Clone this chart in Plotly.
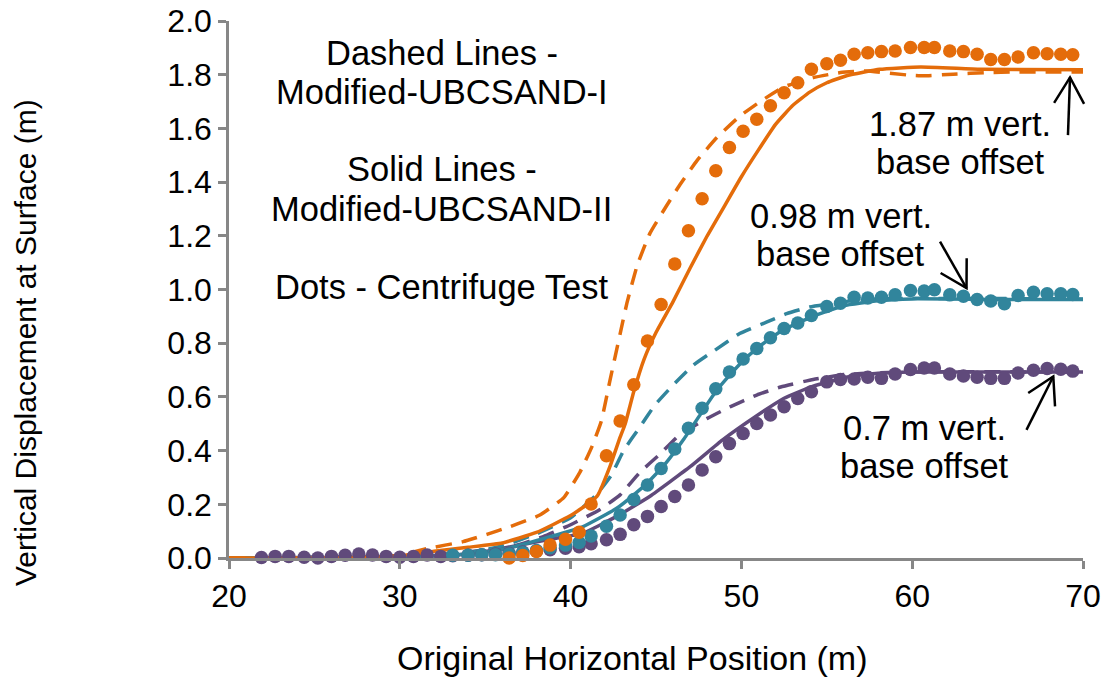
import math
import plotly.graph_objects as go

# ---------------------------------------------------------------------------
# Surface settlement profiles: centrifuge test vs. two constitutive models
# ---------------------------------------------------------------------------

# Centrifuge measurement stations (original horizontal position, m)
dot_x = [21.9, 22.7, 23.5, 24.4, 25.2, 26.0, 26.8, 27.6, 28.4, 29.2,
         30.0, 30.8, 31.6, 32.4, 33.1, 34.0, 34.8, 35.6, 36.4, 37.2,
         38.0, 38.8, 39.7, 40.5, 41.2, 42.1, 42.9, 43.7, 44.5, 45.3,
         46.1, 46.9, 47.7, 48.5, 49.3, 50.1, 50.9, 51.7, 52.5, 53.3,
         54.1, 55.0, 55.8, 56.6, 57.4, 58.2, 59.0, 59.9, 60.7, 61.3,
         62.2, 63.0, 63.8, 64.6, 65.4, 66.2, 67.1, 67.9, 68.7, 69.4]

# Centrifuge test - 0.7 m base offset (all stations)
dots_070 = [0.002, 0.006, 0.006, 0.003, 0.000, 0.006, 0.010, 0.015, 0.011, 0.006,
            0.003, 0.006, 0.011, 0.006, 0.008, 0.010, 0.012, 0.015, 0.018, 0.022,
            0.026, 0.031, 0.036, 0.042, 0.053, 0.068, 0.088, 0.124, 0.155, 0.192,
            0.229, 0.272, 0.328, 0.377, 0.426, 0.464, 0.501, 0.533, 0.563, 0.594,
            0.619, 0.656, 0.665, 0.667, 0.673, 0.669, 0.685, 0.702, 0.708, 0.708,
            0.685, 0.678, 0.673, 0.669, 0.669, 0.689, 0.699, 0.706, 0.703, 0.696]

# Centrifuge test - 0.98 m base offset (stations from 33.1 m)
dots_098 = [0.010, 0.010, 0.012, 0.012, 0.015, 0.020,
            0.028, 0.038, 0.048, 0.058, 0.082, 0.118, 0.160, 0.218, 0.272, 0.333,
            0.406, 0.483, 0.558, 0.630, 0.693, 0.741, 0.780, 0.820, 0.855, 0.875,
            0.903, 0.937, 0.949, 0.971, 0.968, 0.971, 0.980, 0.996, 0.994, 0.999,
            0.980, 0.975, 0.963, 0.957, 0.947, 0.978, 0.990, 0.984, 0.984, 0.981]

# Centrifuge test - 1.87 m base offset (stations from 36.4 m)
dots_187 = [0.000, 0.009,
            0.024, 0.048, 0.070, 0.096, 0.201, 0.381, 0.510, 0.645, 0.808, 0.944,
            1.095, 1.219, 1.338, 1.442, 1.529, 1.589, 1.634, 1.684, 1.733, 1.770,
            1.820, 1.841, 1.854, 1.876, 1.882, 1.886, 1.888, 1.901, 1.901, 1.901,
            1.888, 1.886, 1.876, 1.857, 1.857, 1.866, 1.882, 1.878, 1.876, 1.874]

# Modified-UBCSAND-I (dashed)
dash_187_x = [20, 28, 30, 31.6, 33.7, 35.1, 36.5, 38.2, 39.6, 40.55, 41.25, 41.8, 42.3,
              42.9, 43.3, 43.9, 44.65, 45.6, 46.4, 47.4, 48.55, 49.9, 51.1, 52.5, 54.2,
              55.8, 57.3, 59.7, 60.7, 62.4, 64.4, 66, 70]
dash_187_y = [0, 0.0, 0.01, 0.035, 0.061, 0.088, 0.118, 0.16, 0.225, 0.32, 0.415, 0.51, 0.66,
              0.835, 0.95, 1.09, 1.21, 1.31, 1.39, 1.48, 1.565, 1.645, 1.70, 1.755, 1.789,
              1.808, 1.814, 1.799, 1.796, 1.802, 1.808, 1.81, 1.81]

dash_098_x = [20, 30, 34, 36, 38, 40, 41.5, 42.4, 43.1, 44.07, 44.94, 46.0, 47.2, 48.45,
              49.9, 51.5, 52.65, 54, 56, 58, 60, 70]
dash_098_y = [0, 0.005, 0.02, 0.045, 0.09, 0.15, 0.235, 0.31, 0.40, 0.489, 0.57, 0.644, 0.719,
              0.774, 0.836, 0.879, 0.91, 0.935, 0.955, 0.965, 0.967, 0.965]

dash_070_x = [20, 32, 35, 36.6, 38.4, 40, 41.7, 42.9, 44.07, 45.2, 46.4, 48, 49.4, 50.9,
              52.3, 54.2, 56, 58, 60, 70]
dash_070_y = [0, 0.01, 0.03, 0.043, 0.08, 0.124, 0.18, 0.235, 0.32, 0.385, 0.46, 0.52, 0.565,
              0.607, 0.637, 0.665, 0.683, 0.69, 0.693, 0.693]

# Modified-UBCSAND-II (solid)
solid_187_x = [20, 25, 30, 32, 34, 36, 38, 40, 41.2, 41.6, 42.3, 42.9, 43.2, 43.7, 44.3,
               45.0, 46.0, 47.0, 48.0, 49.0, 50.0, 51.0, 52.0, 53.0, 54.0, 55.0, 56.2,
               58.1, 60.5, 64.0, 70]
solid_187_y = [0, 0, 0.008, 0.025, 0.04, 0.056, 0.095, 0.158, 0.21, 0.235, 0.34, 0.45, 0.5,
               0.62, 0.74, 0.84, 0.955, 1.08, 1.20, 1.31, 1.42, 1.52, 1.615, 1.685, 1.735,
               1.77, 1.797, 1.82, 1.829, 1.82, 1.818]

solid_098_x = [20, 30, 34, 35.9, 38.8, 40.7, 42.7, 43.7, 44.65, 45.6, 46.6, 47.6, 48.5,
               49.3, 50.1, 50.9, 51.7, 52.5, 53.3, 54.2, 56, 58, 60, 65, 70]
solid_098_y = [0, 0.003, 0.015, 0.03, 0.079, 0.116, 0.185, 0.235, 0.29, 0.355, 0.44, 0.535,
               0.62, 0.68, 0.735, 0.78, 0.818, 0.852, 0.875, 0.9, 0.94, 0.958, 0.965, 0.963,
               0.963]

solid_070_x = [20, 30, 34, 35.9, 38.8, 40.7, 42.7, 44.65, 47, 48.9, 50.9, 52.5,
               53.4, 54.2, 56.2, 58, 60, 70]
solid_070_y = [0, 0.003, 0.015, 0.035, 0.07, 0.092, 0.155, 0.23, 0.34, 0.44, 0.53,
               0.595, 0.62, 0.64, 0.674, 0.688, 0.693, 0.693]

x_ticks = [20, 30, 40, 50, 60, 70]
X_RANGE = [20, 70]
Y_RANGE = [0, 2.0]

ORANGE = "#E46C0A"
TEAL = "#31859C"
PURPLE = "#604A7B"
AXIS_GREY = "#878787"
FONT = "Liberation Sans, Arial, sans-serif"

W, H = 1110, 680
M = dict(l=229, r=27, t=21, b=122)
plot_w = W - M["l"] - M["r"]
plot_h = H - M["t"] - M["b"]

fig = go.Figure()

line_sets = [
    (solid_070_x, solid_070_y, PURPLE, "solid"),
    (dash_070_x, dash_070_y, PURPLE, "16px,10px"),
    (solid_098_x, solid_098_y, TEAL, "solid"),
    (dash_098_x, dash_098_y, TEAL, "16px,10px"),
    (solid_187_x, solid_187_y, ORANGE, "solid"),
    (dash_187_x, dash_187_y, ORANGE, "16px,10px"),
]
for xs, ys, col, dash in line_sets:
    fig.add_trace(go.Scatter(
        x=xs, y=ys, mode="lines",
        line=dict(color=col, width=3.5, dash=dash, shape="spline", smoothing=0.4),
        showlegend=False, hoverinfo="skip",
    ))

dot_sets = [
    (dot_x, dots_070, PURPLE),
    (dot_x[len(dot_x) - len(dots_098):], dots_098, TEAL),
    (dot_x[len(dot_x) - len(dots_187):], dots_187, ORANGE),
]
for xs, ys, col in dot_sets:
    fig.add_trace(go.Scatter(
        x=xs, y=ys, mode="markers",
        marker=dict(color=col, size=13.5, line=dict(width=0)),
        cliponaxis=False, showlegend=False,
    ))

# Explanatory text block
notes = [
    ("Dashed Lines -", 32.47, 1.880),
    ("Modified-UBCSAND-I", 32.47, 1.735),
    ("Solid Lines -", 32.47, 1.447),
    ("Modified-UBCSAND-II", 32.47, 1.298),
    ("Dots - Centrifuge Test", 32.47, 1.008),
    ("1.87 m vert.", 62.80, 1.615),
    ("base offset", 62.80, 1.474),
    ("0.98 m vert.", 55.83, 1.273),
    ("base offset", 55.83, 1.132),
    ("0.7 m vert.", 60.72, 0.485),
    ("base offset", 60.72, 0.344),
]
annotations = []
for txt, ax_, ay_ in notes:
    annotations.append(dict(
        text=txt, x=ax_, y=ay_, xref="x", yref="y", showarrow=False,
        xanchor="center", yanchor="middle",
        font=dict(family=FONT, size=34.5, color="black"),
    ))

# Axis titles
annotations.append(dict(
    text="Original Horizontal Position (m)", xref="paper", yref="paper",
    x=0.473, y=-0.1855, showarrow=False, xanchor="center", yanchor="middle",
    font=dict(family=FONT, size=34, color="black"),
))
annotations.append(dict(
    text="Vertical Displacement at Surface (m)", xref="paper", yref="paper",
    x=-0.2389, y=0.402, showarrow=False, xanchor="center", yanchor="middle",
    textangle=-90, font=dict(family=FONT, size=30, color="black"),
))

# Pointer arrows (tip, tail) in data units, drawn as thin open V heads
pointers = [
    ((69.24, 1.79), (69.12, 1.575)),
    ((63.18, 1.005), (61.63, 1.178)),
    ((68.26, 0.676), (66.69, 0.477)),
]


def to_paper(x, y):
    return ((x - X_RANGE[0]) / (X_RANGE[1] - X_RANGE[0]),
            (y - Y_RANGE[0]) / (Y_RANGE[1] - Y_RANGE[0]))


HEAD_LEN = 30.0
HEAD_ANGLE = math.radians(30)
shapes = []
for tip, tail in pointers:
    tx, ty = to_paper(*tip)
    bx, by = to_paper(*tail)
    # direction tail -> tip in pixels
    dx, dy = (tx - bx) * plot_w, (ty - by) * plot_h
    n = math.hypot(dx, dy)
    ux, uy = -dx / n, -dy / n
    arms = []
    for s in (1, -1):
        c, si = math.cos(s * HEAD_ANGLE), math.sin(s * HEAD_ANGLE)
        rx, ry = ux * c - uy * si, ux * si + uy * c
        arms.append((tx + rx * HEAD_LEN / plot_w, ty + ry * HEAD_LEN / plot_h))
    line_style = dict(color="black", width=2.5)
    shapes.append(dict(type="line", xref="paper", yref="paper",
                       x0=bx, y0=by, x1=tx, y1=ty, line=line_style))
    shapes.append(dict(type="path", xref="paper", yref="paper",
                       path=f"M{arms[0][0]},{arms[0][1]} L{tx},{ty} L{arms[1][0]},{arms[1][1]}",
                       line=line_style))

axis_common = dict(
    showgrid=False, zeroline=False, showline=True, linecolor=AXIS_GREY, linewidth=2.5,
    ticks="outside", ticklen=8, tickwidth=2.5, tickcolor=AXIS_GREY, automargin=False,
    tickfont=dict(family=FONT, size=32, color="black"),
)

fig.update_layout(
    width=W, height=H,
    margin=M,
    paper_bgcolor="white", plot_bgcolor="white",
    xaxis=dict(range=X_RANGE, tickvals=x_ticks, **axis_common),
    yaxis=dict(range=Y_RANGE, dtick=0.2, tickformat=".1f", **axis_common),
    annotations=annotations,
    shapes=shapes,
    showlegend=False,
)

fig.write_html("out.html")
